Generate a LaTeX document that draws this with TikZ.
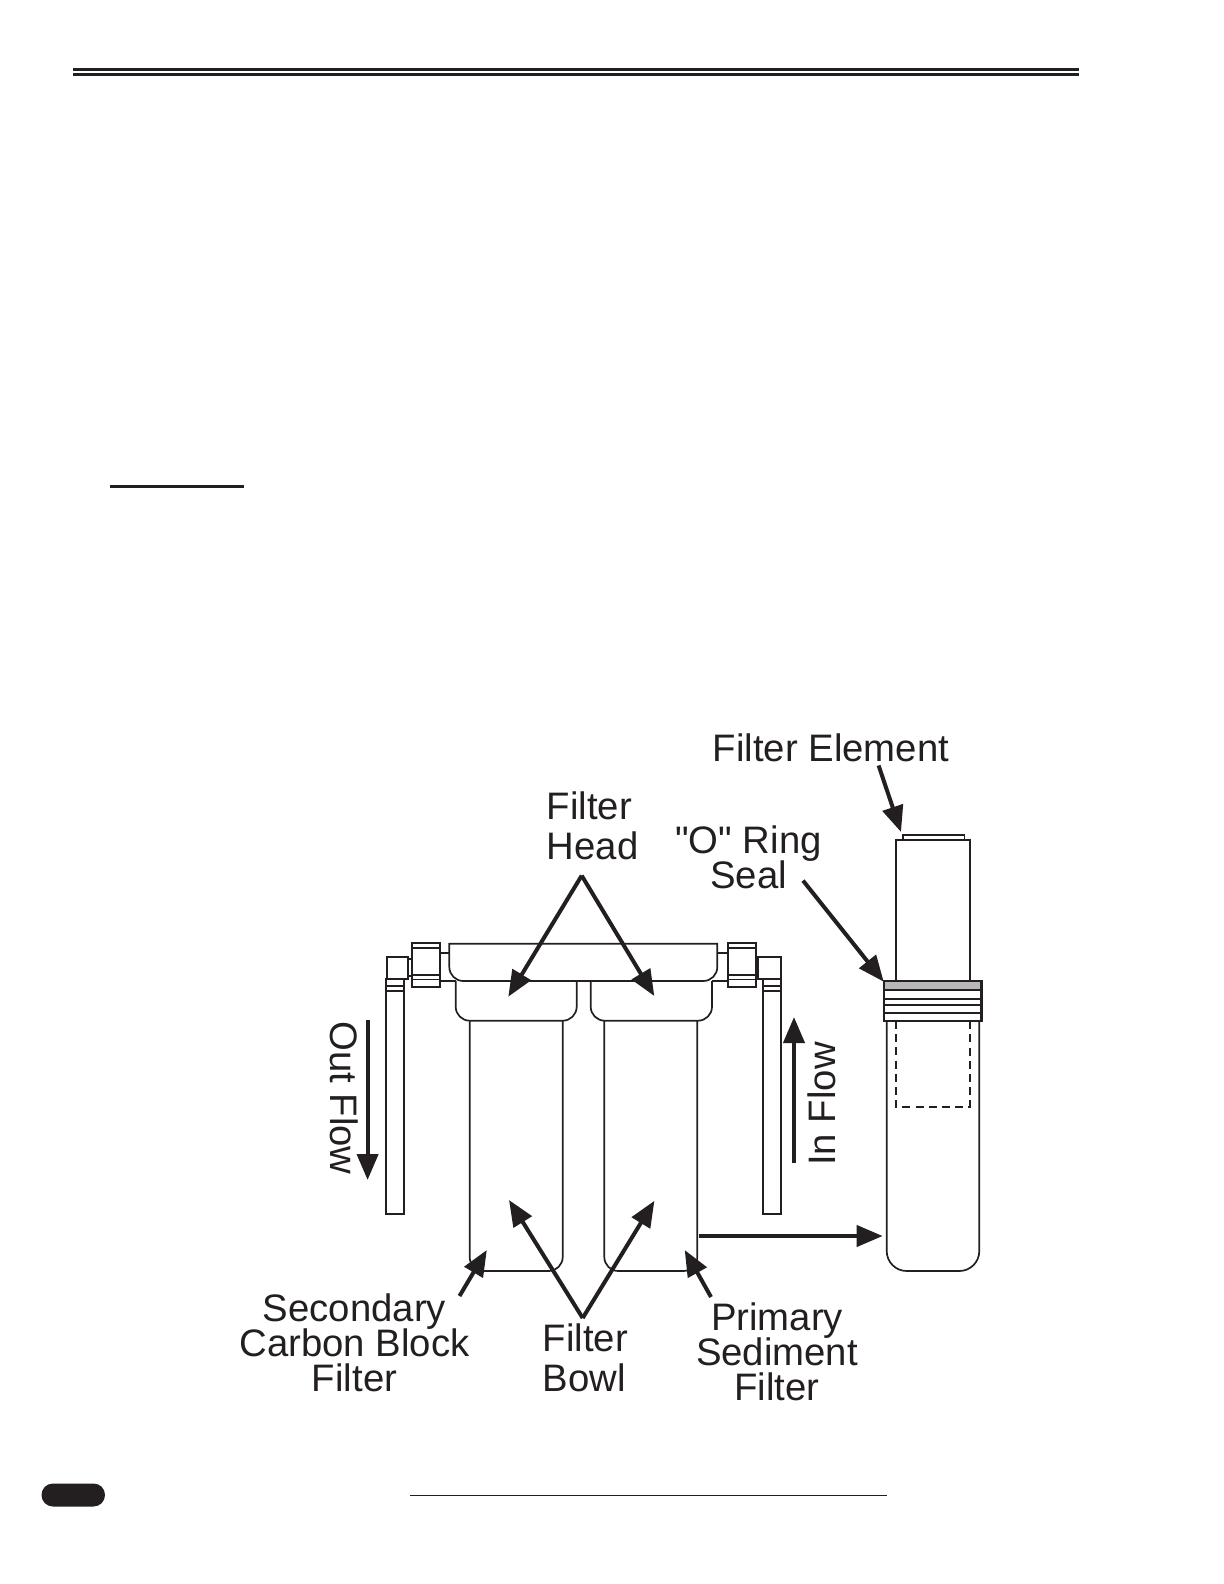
\documentclass[tikz,border=0pt]{standalone}
\usepackage{fontspec}
\newfontfamily\labelfont{Liberation Sans}
\usetikzlibrary{arrows.meta}
\definecolor{ink}{HTML}{231F20}
\definecolor{band}{HTML}{B8B8B8}
\newcommand\labfonttight{\labelfont\fontsize{19.15}{17.5}\selectfont\lineskiplimit=-50pt\relax}
\newcommand\labfontwide{\labelfont\fontsize{19.15}{19.8}\selectfont\lineskiplimit=-50pt\relax}
\tikzset{
  part/.style={draw=ink,line width=0.85pt},
  heavy/.style={draw=ink,line width=1.25pt},
  rule/.style={draw=ink,line width=1.5pt},
  hidden/.style={draw=ink,line width=0.9pt,dash pattern=on 4pt off 2.6pt},
  pointer/.style={draw=ink,line width=2pt,-{Triangle[length=13pt,width=10.5pt,fill=ink]}},
  lab/.style={font=\labfonttight,text=ink,inner sep=0pt,align=center},
  labwide/.style={font=\labfontwide,text=ink,inner sep=0pt,align=left},
}
\begin{document}
\begin{tikzpicture}[x=0.5pt,y=-0.5pt]
\useasboundingbox (0,0) rectangle (1224,1584);
% page furniture
\draw[rule] (73,69.5) -- (1078.6,69.5);
\draw[rule] (73,74.5) -- (1078.6,74.5);
\draw[rule] (110,486) -- (244,486);
\draw[draw=ink,line width=0.4pt] (410,1495) -- (887,1495);
\fill[ink,rounded corners=5.7pt] (41.5,1483.5) rectangle (105,1506.5);
% head
\draw[part] (449.3,943.7) [rounded corners=7pt] -- (449.3,981) -- (717.3,981) [sharp corners] -- (717.3,943.7) -- cycle;
% caps
\draw[part,rounded corners=7pt] (455.7,981) -- (455.7,1020.7) -- (576.7,1020.7) -- (576.7,981);
\draw[part,rounded corners=7pt] (590.7,981) -- (590.7,1020.7) -- (712,1020.7) -- (712,981);
% bowls
\draw[part,rounded corners=7pt] (469.7,1020.7) -- (469.7,1271) -- (562.7,1271) -- (562.7,1020.7);
\draw[part,rounded corners=7pt] (604.3,1020.7) -- (604.3,1271) -- (697.3,1271) -- (697.3,1020.7);
% left fitting
\draw[part] (440,953.3) -- (449.3,953.3);
\draw[part] (440,981) -- (456,981);
\draw[part] (411.7,943) rectangle (440,987);
\draw[part] (411.7,948) -- (440,948);
\draw[part] (411.7,975) -- (440,975);
\draw[part] (411.7,979.5) -- (440,979.5);
\draw[part] (408,959) rectangle (411.7,976);
\draw[part] (386.7,956.7) rectangle (408,978.7);
\draw[part] (385.7,979) rectangle (404.3,1214);
\draw[part] (385.7,986) -- (404.3,986);
\draw[part] (385.7,990.7) -- (404.3,990.7);
% right fitting
\draw[part] (717.3,953.3) -- (727.7,953.3);
\draw[part] (712,981) -- (727.7,981);
\draw[part] (727.7,943) rectangle (755.7,987);
\draw[part] (727.7,948) -- (755.7,948);
\draw[part] (727.7,975) -- (755.7,975);
\draw[part] (727.7,979.5) -- (755.7,979.5);
\draw[part] (755.7,959) rectangle (758.3,976);
\draw[part] (758.3,956.7) rectangle (780.7,978.7);
\draw[part] (762.7,979) rectangle (781,1214);
\draw[part] (762.7,986) -- (781,986);
\draw[part] (762.7,990.7) -- (781,990.7);
% removed element
\draw[part] (903,840) -- (903,835) -- (964.5,835) -- (964.5,840);
\draw[part] (895.7,981) -- (895.7,840) -- (970,840) -- (970,981);
\draw[part,rounded corners=10pt] (886.7,1021) -- (886.7,1271) -- (979.3,1271) -- (979.3,1021);
\draw[hidden] (895.7,1021) -- (895.7,1106.7) -- (970,1106.7) -- (970,1021);
\fill[band] (884,981) rectangle (981.7,990);
\draw[part] (884,990) -- (981.7,990);
\draw[heavy] (884,999) -- (981.7,999);
\draw[part] (884,1005.3) -- (981.7,1005.3);
\draw[part] (884,1012.7) -- (981.7,1012.7);
\draw[heavy] (884,981) rectangle (981.7,1021);
% labels
\node[lab] (fe) at (831,748) {Filter Element};
\node[labwide,anchor=west] (fh) at (546.4,826) {Filter\\Head};
\node[lab] (or) at (748.5,857.5) {"O" Ring\\Seal};
\node[lab] (sc) at (354.5,1342.5) {Secondary\\Carbon Block\\Filter};
\node[labwide,anchor=west] (fb) at (542.3,1358) {Filter\\Bowl};
\node[lab] (ps) at (777,1351.5) {Primary\\Sediment\\Filter};
\node[lab,rotate=-90] (of) at (344,1098) {Out Flow};
\node[lab,rotate=90] (inf) at (821.5,1104) {In Flow};
% arrow end points
\coordinate (headapex) at (581.7,875.6);
\coordinate (headl) at (508.3,996.7);
\coordinate (headr) at (654.3,996);
\coordinate (bowlapex) at (582.7,1318);
\coordinate (bowll) at (509,1200);
\coordinate (bowlr) at (654.4,1200.8);
\coordinate (secs) at (459.5,1296);
\coordinate (sect) at (486.8,1250);
\coordinate (pris) at (711,1297);
\coordinate (prit) at (684.7,1250);
\coordinate (exs) at (699,1236);
\coordinate (ext) at (882.7,1236);
\coordinate (ors) at (803,880.6);
\coordinate (ort) at (883.7,981.7);
\coordinate (fes) at (878.6,765.5);
\coordinate (fet) at (901,832);
\coordinate (ins) at (794,1163);
\coordinate (int) at (794,1017);
\coordinate (ous) at (367.6,1020);
\coordinate (out) at (367.6,1180);
% arrows
\draw[pointer] (headapex) -- (headl);
\draw[pointer] (headapex) -- (headr);
\draw[pointer] (bowlapex) -- (bowll);
\draw[pointer] (bowlapex) -- (bowlr);
\draw[pointer] (secs) -- (sect);
\draw[pointer] (pris) -- (prit);
\draw[pointer] (exs) -- (ext);
\draw[pointer] (ors) -- (ort);
\draw[pointer] (fes) -- (fet);
\draw[pointer] (ins) -- (int);
\draw[pointer] (ous) -- (out);
\end{tikzpicture}
\end{document}
